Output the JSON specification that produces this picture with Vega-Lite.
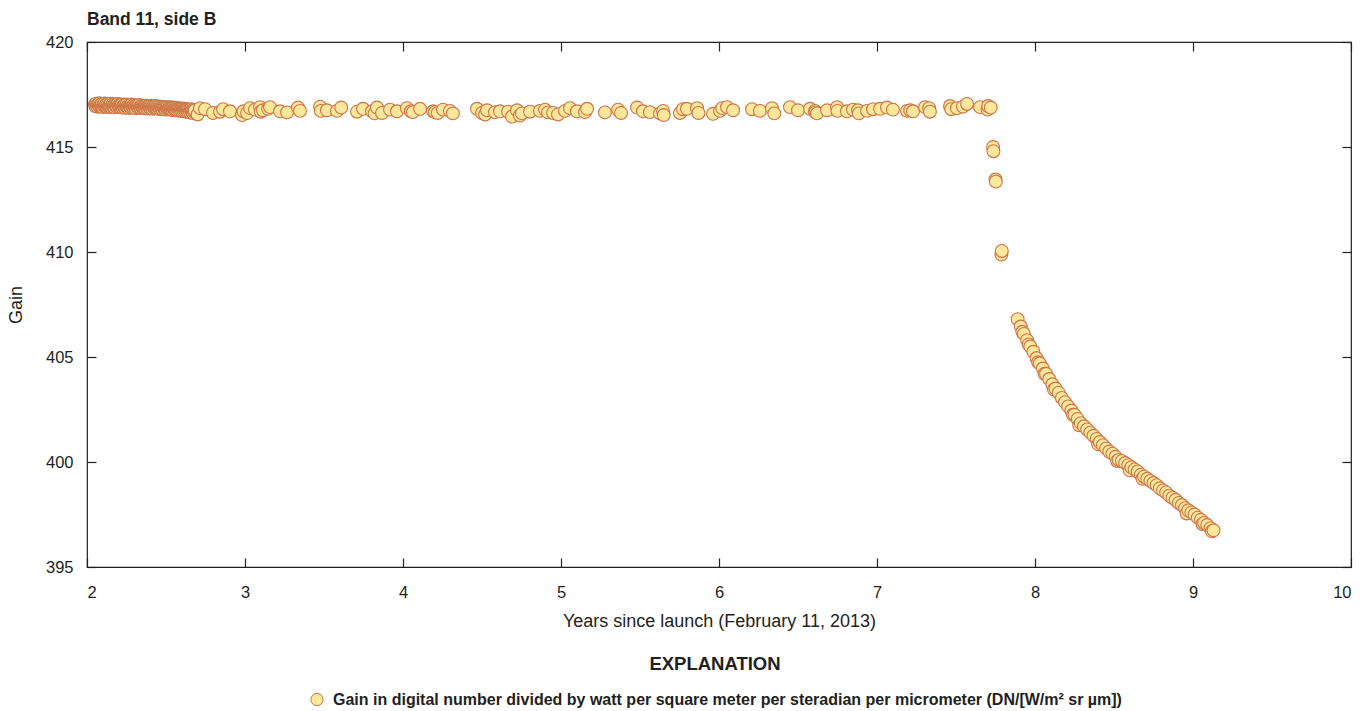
{
  "$schema": "https://vega.github.io/schema/vega-lite/v6.json",
  "width": 1264,
  "height": 525,
  "autosize": {"type": "none"},
  "padding": {"left": 87, "top": 42, "right": 11, "bottom": 144},
  "background": "white",
  "title": {
    "text": "Band 11, side B",
    "anchor": "start",
    "frame": "group",
    "fontSize": 17.5,
    "fontWeight": "bold",
    "font": "Liberation Sans, Arial, sans-serif",
    "color": "#231F20",
    "baseline": "bottom",
    "offset": -12
  },
  "data": {
    "values": [
      {"t": 2.050, "g": 417.03}, {"t": 2.054, "g": 416.94}, {"t": 2.058, "g": 417.06}, {"t": 2.062, "g": 416.98},
      {"t": 2.066, "g": 416.92}, {"t": 2.070, "g": 417.04}, {"t": 2.074, "g": 416.97}, {"t": 2.078, "g": 417.08},
      {"t": 2.082, "g": 416.93}, {"t": 2.086, "g": 417.01}, {"t": 2.090, "g": 416.95}, {"t": 2.094, "g": 417.05},
      {"t": 2.098, "g": 416.9}, {"t": 2.102, "g": 417.0}, {"t": 2.106, "g": 416.96}, {"t": 2.110, "g": 417.07},
      {"t": 2.114, "g": 416.93}, {"t": 2.118, "g": 416.99}, {"t": 2.122, "g": 417.04}, {"t": 2.126, "g": 416.91},
      {"t": 2.130, "g": 416.98}, {"t": 2.134, "g": 417.05}, {"t": 2.138, "g": 416.92}, {"t": 2.142, "g": 417.0},
      {"t": 2.146, "g": 416.94}, {"t": 2.150, "g": 417.06}, {"t": 2.154, "g": 416.9}, {"t": 2.158, "g": 416.99},
      {"t": 2.162, "g": 417.03}, {"t": 2.166, "g": 416.93}, {"t": 2.170, "g": 416.97}, {"t": 2.174, "g": 416.89},
      {"t": 2.178, "g": 417.04}, {"t": 2.182, "g": 416.95}, {"t": 2.186, "g": 417.0}, {"t": 2.190, "g": 416.91},
      {"t": 2.194, "g": 417.05}, {"t": 2.198, "g": 416.96}, {"t": 2.202, "g": 416.92}, {"t": 2.206, "g": 417.02},
      {"t": 2.210, "g": 416.9}, {"t": 2.214, "g": 416.99}, {"t": 2.218, "g": 416.95}, {"t": 2.222, "g": 417.03},
      {"t": 2.226, "g": 416.88}, {"t": 2.230, "g": 416.97}, {"t": 2.234, "g": 416.93}, {"t": 2.238, "g": 417.01},
      {"t": 2.242, "g": 416.87}, {"t": 2.246, "g": 416.96}, {"t": 2.250, "g": 417.02}, {"t": 2.254, "g": 416.9},
      {"t": 2.258, "g": 416.95}, {"t": 2.262, "g": 416.86}, {"t": 2.266, "g": 417.0}, {"t": 2.270, "g": 416.93},
      {"t": 2.274, "g": 416.97}, {"t": 2.278, "g": 416.88}, {"t": 2.282, "g": 417.02}, {"t": 2.286, "g": 416.92},
      {"t": 2.290, "g": 416.95}, {"t": 2.294, "g": 416.86}, {"t": 2.298, "g": 416.99}, {"t": 2.302, "g": 416.9},
      {"t": 2.306, "g": 416.94}, {"t": 2.310, "g": 416.84}, {"t": 2.314, "g": 416.98}, {"t": 2.318, "g": 416.91},
      {"t": 2.322, "g": 416.95}, {"t": 2.326, "g": 416.87}, {"t": 2.330, "g": 417.0}, {"t": 2.334, "g": 416.89},
      {"t": 2.338, "g": 416.93}, {"t": 2.342, "g": 416.85}, {"t": 2.346, "g": 416.97}, {"t": 2.350, "g": 416.9},
      {"t": 2.354, "g": 416.86}, {"t": 2.358, "g": 416.96}, {"t": 2.362, "g": 416.88}, {"t": 2.366, "g": 416.93},
      {"t": 2.370, "g": 416.84}, {"t": 2.374, "g": 416.97}, {"t": 2.378, "g": 416.89}, {"t": 2.382, "g": 416.92},
      {"t": 2.386, "g": 416.83}, {"t": 2.390, "g": 416.95}, {"t": 2.394, "g": 416.88}, {"t": 2.398, "g": 416.91},
      {"t": 2.402, "g": 416.85}, {"t": 2.406, "g": 416.96}, {"t": 2.410, "g": 416.87}, {"t": 2.414, "g": 416.82},
      {"t": 2.418, "g": 416.94}, {"t": 2.422, "g": 416.89}, {"t": 2.426, "g": 416.91}, {"t": 2.430, "g": 416.84},
      {"t": 2.434, "g": 416.95}, {"t": 2.438, "g": 416.86}, {"t": 2.442, "g": 416.9}, {"t": 2.446, "g": 416.83},
      {"t": 2.450, "g": 416.93}, {"t": 2.454, "g": 416.86}, {"t": 2.458, "g": 416.89}, {"t": 2.462, "g": 416.81},
      {"t": 2.466, "g": 416.92}, {"t": 2.470, "g": 416.85}, {"t": 2.474, "g": 416.88}, {"t": 2.478, "g": 416.8},
      {"t": 2.482, "g": 416.91}, {"t": 2.486, "g": 416.86}, {"t": 2.490, "g": 416.83}, {"t": 2.494, "g": 416.9},
      {"t": 2.498, "g": 416.78}, {"t": 2.502, "g": 416.88}, {"t": 2.506, "g": 416.84}, {"t": 2.510, "g": 416.9},
      {"t": 2.514, "g": 416.8}, {"t": 2.518, "g": 416.86}, {"t": 2.522, "g": 416.82}, {"t": 2.526, "g": 416.89},
      {"t": 2.530, "g": 416.79}, {"t": 2.534, "g": 416.87}, {"t": 2.538, "g": 416.83}, {"t": 2.542, "g": 416.76},
      {"t": 2.546, "g": 416.88}, {"t": 2.550, "g": 416.81}, {"t": 2.554, "g": 416.85}, {"t": 2.558, "g": 416.77},
      {"t": 2.562, "g": 416.86}, {"t": 2.566, "g": 416.8}, {"t": 2.570, "g": 416.74}, {"t": 2.574, "g": 416.85},
      {"t": 2.578, "g": 416.79}, {"t": 2.582, "g": 416.83}, {"t": 2.586, "g": 416.73}, {"t": 2.590, "g": 416.84},
      {"t": 2.594, "g": 416.78}, {"t": 2.598, "g": 416.81}, {"t": 2.602, "g": 416.71}, {"t": 2.606, "g": 416.83},
      {"t": 2.610, "g": 416.77}, {"t": 2.614, "g": 416.7}, {"t": 2.618, "g": 416.82}, {"t": 2.622, "g": 416.76},
      {"t": 2.626, "g": 416.68}, {"t": 2.630, "g": 416.8}, {"t": 2.634, "g": 416.74}, {"t": 2.638, "g": 416.79},
      {"t": 2.642, "g": 416.66}, {"t": 2.646, "g": 416.78}, {"t": 2.650, "g": 416.72}, {"t": 2.654, "g": 416.64},
      {"t": 2.658, "g": 416.8}, {"t": 2.662, "g": 416.7}, {"t": 2.666, "g": 416.75}, {"t": 2.670, "g": 416.62},
      {"t": 2.674, "g": 416.77}, {"t": 2.678, "g": 416.68}, {"t": 2.682, "g": 416.74},
      {"t": 2.700, "g": 416.55}, {"t": 2.715, "g": 416.85}, {"t": 2.747, "g": 416.8}, {"t": 2.797, "g": 416.62},
      {"t": 2.842, "g": 416.68}, {"t": 2.861, "g": 416.8}, {"t": 2.905, "g": 416.7}, {"t": 2.981, "g": 416.52},
      {"t": 2.99, "g": 416.7}, {"t": 3.013, "g": 416.62}, {"t": 3.032, "g": 416.85}, {"t": 3.063, "g": 416.78},
      {"t": 3.095, "g": 416.9}, {"t": 3.1, "g": 416.68}, {"t": 3.114, "g": 416.75}, {"t": 3.146, "g": 416.82},
      {"t": 3.158, "g": 416.9}, {"t": 3.222, "g": 416.7}, {"t": 3.266, "g": 416.65}, {"t": 3.335, "g": 416.88},
      {"t": 3.348, "g": 416.72}, {"t": 3.475, "g": 416.92}, {"t": 3.48, "g": 416.72}, {"t": 3.519, "g": 416.75},
      {"t": 3.582, "g": 416.72}, {"t": 3.609, "g": 416.88}, {"t": 3.709, "g": 416.68}, {"t": 3.747, "g": 416.82},
      {"t": 3.804, "g": 416.7}, {"t": 3.82, "g": 416.6}, {"t": 3.835, "g": 416.88}, {"t": 3.867, "g": 416.62},
      {"t": 3.918, "g": 416.78}, {"t": 3.962, "g": 416.7}, {"t": 4.025, "g": 416.85}, {"t": 4.05, "g": 416.7},
      {"t": 4.063, "g": 416.66}, {"t": 4.108, "g": 416.82}, {"t": 4.190, "g": 416.7}, {"t": 4.203, "g": 416.66},
      {"t": 4.22, "g": 416.62}, {"t": 4.253, "g": 416.78}, {"t": 4.297, "g": 416.72}, {"t": 4.316, "g": 416.6},
      {"t": 4.468, "g": 416.82}, {"t": 4.500, "g": 416.62}, {"t": 4.52, "g": 416.55}, {"t": 4.532, "g": 416.75},
      {"t": 4.582, "g": 416.66}, {"t": 4.614, "g": 416.7}, {"t": 4.665, "g": 416.68}, {"t": 4.690, "g": 416.45},
      {"t": 4.722, "g": 416.75}, {"t": 4.74, "g": 416.5}, {"t": 4.753, "g": 416.6}, {"t": 4.804, "g": 416.68},
      {"t": 4.867, "g": 416.72}, {"t": 4.899, "g": 416.78}, {"t": 4.918, "g": 416.65}, {"t": 4.95, "g": 416.62},
      {"t": 4.981, "g": 416.55}, {"t": 5.025, "g": 416.72}, {"t": 5.057, "g": 416.85}, {"t": 5.101, "g": 416.7},
      {"t": 5.152, "g": 416.66}, {"t": 5.165, "g": 416.82}, {"t": 5.278, "g": 416.65}, {"t": 5.361, "g": 416.78},
      {"t": 5.38, "g": 416.62}, {"t": 5.481, "g": 416.88}, {"t": 5.519, "g": 416.7}, {"t": 5.563, "g": 416.66},
      {"t": 5.627, "g": 416.6}, {"t": 5.646, "g": 416.72}, {"t": 5.65, "g": 416.52}, {"t": 5.753, "g": 416.62},
      {"t": 5.772, "g": 416.8}, {"t": 5.797, "g": 416.82}, {"t": 5.861, "g": 416.85}, {"t": 5.87, "g": 416.62},
      {"t": 5.962, "g": 416.58}, {"t": 6.006, "g": 416.72}, {"t": 6.02, "g": 416.85}, {"t": 6.051, "g": 416.9},
      {"t": 6.089, "g": 416.75}, {"t": 6.209, "g": 416.8}, {"t": 6.259, "g": 416.72}, {"t": 6.335, "g": 416.85},
      {"t": 6.35, "g": 416.6}, {"t": 6.449, "g": 416.9}, {"t": 6.5, "g": 416.75}, {"t": 6.576, "g": 416.82},
      {"t": 6.608, "g": 416.72}, {"t": 6.61, "g": 416.65}, {"t": 6.62, "g": 416.6}, {"t": 6.684, "g": 416.75},
      {"t": 6.747, "g": 416.9}, {"t": 6.75, "g": 416.72}, {"t": 6.81, "g": 416.7}, {"t": 6.848, "g": 416.78},
      {"t": 6.88, "g": 416.75}, {"t": 6.885, "g": 416.6}, {"t": 6.937, "g": 416.72}, {"t": 6.975, "g": 416.8},
      {"t": 7.019, "g": 416.82}, {"t": 7.063, "g": 416.88}, {"t": 7.101, "g": 416.78}, {"t": 7.19, "g": 416.72},
      {"t": 7.21, "g": 416.75}, {"t": 7.228, "g": 416.7}, {"t": 7.304, "g": 416.9}, {"t": 7.33, "g": 416.85},
      {"t": 7.335, "g": 416.68}, {"t": 7.462, "g": 416.95}, {"t": 7.47, "g": 416.8}, {"t": 7.506, "g": 416.85},
      {"t": 7.544, "g": 416.92}, {"t": 7.57, "g": 417.05}, {"t": 7.652, "g": 416.9}, {"t": 7.7, "g": 416.78},
      {"t": 7.703, "g": 416.95}, {"t": 7.72, "g": 416.88},
      {"t": 7.735, "g": 415.0}, {"t": 7.737, "g": 414.8}, {"t": 7.75, "g": 413.45}, {"t": 7.752, "g": 413.35},
      {"t": 7.787, "g": 409.88}, {"t": 7.79, "g": 410.05},
      {"t": 7.89, "g": 406.8}, {"t": 7.91, "g": 406.45}, {"t": 7.92, "g": 406.2}, {"t": 7.93, "g": 406.1},
      {"t": 7.95, "g": 405.8}, {"t": 7.96, "g": 405.6},
      {"t": 7.97, "g": 405.5}, {"t": 7.99, "g": 405.25}, {"t": 8.01, "g": 404.95}, {"t": 8.02, "g": 404.75},
      {"t": 8.03, "g": 404.7}, {"t": 8.05, "g": 404.45}, {"t": 8.06, "g": 404.2}, {"t": 8.07, "g": 404.2},
      {"t": 8.09, "g": 403.95}, {"t": 8.11, "g": 403.7}, {"t": 8.12, "g": 403.45},
      {"t": 8.13, "g": 403.5}, {"t": 8.15, "g": 403.3}, {"t": 8.17, "g": 403.05}, {"t": 8.19, "g": 402.85},
      {"t": 8.21, "g": 402.65}, {"t": 8.23, "g": 402.45}, {"t": 8.24, "g": 402.25}, {"t": 8.25, "g": 402.25},
      {"t": 8.27, "g": 402.05}, {"t": 8.28, "g": 401.75},
      {"t": 8.29, "g": 401.85}, {"t": 8.31, "g": 401.7}, {"t": 8.33, "g": 401.55}, {"t": 8.35, "g": 401.4},
      {"t": 8.37, "g": 401.25}, {"t": 8.39, "g": 401.1}, {"t": 8.40, "g": 400.85}, {"t": 8.41, "g": 400.95},
      {"t": 8.43, "g": 400.8}, {"t": 8.45, "g": 400.65}, {"t": 8.47, "g": 400.5}, {"t": 8.49, "g": 400.4},
      {"t": 8.51, "g": 400.25}, {"t": 8.52, "g": 400.05}, {"t": 8.53, "g": 400.1}, {"t": 8.55, "g": 400.05},
      {"t": 8.57, "g": 399.95}, {"t": 8.59, "g": 399.85}, {"t": 8.60, "g": 399.6},
      {"t": 8.61, "g": 399.75}, {"t": 8.63, "g": 399.65}, {"t": 8.65, "g": 399.55}, {"t": 8.67, "g": 399.4},
      {"t": 8.68, "g": 399.2},
      {"t": 8.69, "g": 399.3}, {"t": 8.71, "g": 399.2}, {"t": 8.73, "g": 399.1}, {"t": 8.75, "g": 399.0},
      {"t": 8.77, "g": 398.9}, {"t": 8.79, "g": 398.75}, {"t": 8.81, "g": 398.65}, {"t": 8.83, "g": 398.55},
      {"t": 8.85, "g": 398.4}, {"t": 8.87, "g": 398.3}, {"t": 8.89, "g": 398.2}, {"t": 8.91, "g": 398.05},
      {"t": 8.93, "g": 397.95}, {"t": 8.95, "g": 397.8}, {"t": 8.96, "g": 397.55}, {"t": 8.97, "g": 397.7},
      {"t": 8.99, "g": 397.6}, {"t": 9.01, "g": 397.5}, {"t": 9.03, "g": 397.35}, {"t": 9.05, "g": 397.25},
      {"t": 9.06, "g": 397.05}, {"t": 9.07, "g": 397.1}, {"t": 9.09, "g": 397.0}, {"t": 9.11, "g": 396.85},
      {"t": 9.12, "g": 396.7}, {"t": 9.13, "g": 396.75}
    ]
  },
  "layer": [
    {
      "mark": {"type": "point", "filled": true, "size": 165, "stroke": "#CD744A", "strokeWidth": 1.1, "opacity": 1},
      "encoding": {
        "x": {
          "field": "t", "type": "quantitative",
          "scale": {"domain": [2, 10], "nice": false, "zero": false},
          "axis": {
            "orient": "bottom",
            "title": "Years since launch (February 11, 2013)",
            "values": [2, 3, 4, 5, 6, 7, 8, 9, 10],
            "format": "d",
            "tickSize": -9,
            "labelPadding": 26,
            "titlePadding": 12
          }
        },
        "y": {
          "field": "g", "type": "quantitative",
          "scale": {"domain": [395, 420], "nice": false, "zero": false},
          "axis": {
            "orient": "left",
            "title": "Gain",
            "values": [395, 400, 405, 410, 415, 420],
            "format": "d",
            "tickSize": -9,
            "labelPadding": 23,
            "titlePadding": 20
          }
        },
        "fill": {
          "datum": "Gain in digital number divided by watt per square meter per steradian per micrometer (DN/[W/m² sr µm])",
          "type": "nominal",
          "scale": {"range": ["#FDE79B"]},
          "legend": {
            "orient": "none",
            "legendX": 222,
            "legendY": 613,
            "direction": "horizontal",
            "title": "EXPLANATION",
            "titleAnchor": "middle",
            "titleFontSize": 18.5,
            "titleFontWeight": "bold",
            "titlePadding": 18,
            "labelFontSize": 16,
            "labelFontWeight": "bold",
            "labelLimit": 0,
            "labelOffset": 8,
            "symbolType": "circle",
            "symbolSize": 150,
            "symbolFillColor": "#FDE79B",
            "symbolStrokeColor": "#CD744A",
            "symbolStrokeWidth": 1
          }
        }
      }
    },
    {
      "mark": {"type": "point", "opacity": 0},
      "encoding": {
        "x": {
          "field": "t", "type": "quantitative",
          "axis": {"orient": "top", "title": null, "labels": false, "values": [2, 3, 4, 5, 6, 7, 8, 9, 10], "tickSize": -9, "domain": false}
        },
        "y": {
          "field": "g", "type": "quantitative",
          "axis": {"orient": "right", "title": null, "labels": false, "values": [395, 400, 405, 410, 415, 420], "tickSize": -9, "domain": false}
        }
      }
    }
  ],
  "resolve": {"axis": {"x": "independent", "y": "independent"}},
  "config": {
    "view": {"stroke": "#231F20", "strokeWidth": 1.2},
    "font": "Liberation Sans, Arial, sans-serif",
    "axis": {
      "grid": false,
      "domain": false,
      "tickColor": "#231F20",
      "tickWidth": 1.2,
      "labelFont": "Liberation Sans, Arial, sans-serif",
      "labelFontSize": 16.5,
      "labelColor": "#231F20",
      "titleFont": "Liberation Sans, Arial, sans-serif",
      "titleFontSize": 18,
      "titleFontWeight": "normal",
      "titleColor": "#231F20"
    },
    "legend": {
      "labelFont": "Liberation Sans, Arial, sans-serif",
      "titleFont": "Liberation Sans, Arial, sans-serif",
      "labelColor": "#231F20",
      "titleColor": "#231F20"
    }
  }
}
